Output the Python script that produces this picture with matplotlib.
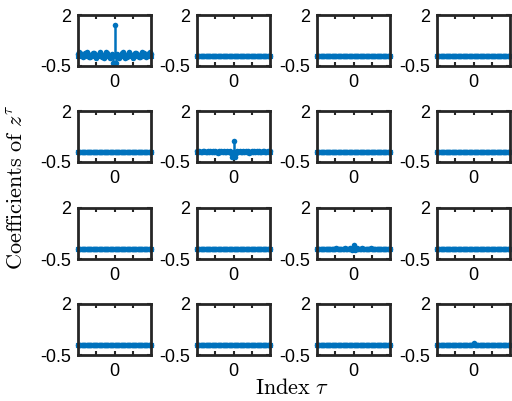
import numpy as np
import matplotlib.pyplot as plt
from matplotlib.ticker import FixedLocator

plt.rcParams['font.family'] = ['Liberation Sans', 'DejaVu Sans']
plt.rcParams['mathtext.fontset'] = 'cm'

# lag index
tau = np.arange(-30, 31)

# coefficients (tau = -30 .. 30)
c11 = [0.10, 0.18, 0.12, 0.00, -0.08, -0.02, 0.12, 0.20, 0.10, -0.05,
       -0.08, 0.05, 0.16, 0.14, 0.02, -0.09, -0.03, 0.10, 0.19, 0.11,
       -0.04, -0.10, 0.04, 0.17, 0.15, 0.00, -0.12, -0.05, 0.08, -0.35,
       1.50,
       -0.35, 0.08, -0.05, -0.12, 0.00, 0.15, 0.17, 0.04, -0.10, -0.04,
       0.11, 0.19, 0.10, -0.03, -0.09, 0.02, 0.14, 0.16, 0.05, -0.08,
       -0.05, 0.10, 0.20, 0.12, -0.02, -0.08, 0.00, 0.12, 0.18, 0.10]
c22 = [0.02, -0.02, 0.03, 0.00, -0.03, 0.02, 0.04, -0.02, 0.01, 0.03,
       -0.03, 0.02, 0.00, 0.03, -0.02, 0.04, 0.01, -0.04, 0.05, -0.02,
       0.03, -0.03, 0.04, 0.01, -0.03, 0.05, -0.02, 0.06, -0.04, -0.25,
       0.52,
       -0.25, -0.04, 0.06, -0.02, 0.05, -0.03, 0.01, 0.04, -0.03, 0.03,
       -0.02, 0.05, -0.04, 0.01, 0.04, -0.02, 0.03, 0.00, 0.02, -0.03,
       0.03, 0.01, -0.02, 0.04, 0.02, -0.03, 0.00, 0.03, -0.02, 0.02]
c33 = [0.00, 0.01, -0.01, 0.01, 0.00, -0.01, 0.01, 0.00, 0.01, -0.01,
       0.00, 0.01, -0.01, 0.00, 0.01, -0.01, 0.02, -0.01, 0.01, 0.00,
       -0.01, 0.01, 0.00, 0.02, -0.01, 0.01, -0.02, 0.02, -0.01, -0.08,
       0.20,
       -0.08, -0.01, 0.02, -0.02, 0.01, -0.01, 0.02, 0.00, 0.01, -0.01,
       0.00, 0.01, -0.01, 0.02, -0.01, 0.01, 0.00, -0.01, 0.01, 0.00,
       -0.01, 0.01, 0.00, 0.01, -0.01, 0.00, 0.01, -0.01, 0.01, 0.00]
c44 = [0.0] * 29 + [-0.03, 0.10, -0.03] + [0.0] * 29
zero = [0.0] * 61

panels = [[c11, zero, zero, zero],
          [zero, c22, zero, zero],
          [zero, zero, c33, zero],
          [zero, zero, zero, c44]]

blue = '#0072BD'
W, H = 512, 401
fig = plt.figure(figsize=(W / 100, H / 100), dpi=100)

lefts = [78, 197, 317, 437]
tops = [15, 111, 208, 304]
aw, ah = 73, 51

for i in range(4):
    for j in range(4):
        ax = fig.add_axes([lefts[j] / W, 1 - (tops[i] + ah) / H, aw / W, ah / H])
        y = panels[i][j]
        ax.vlines(tau, 0, y, color=blue, linewidth=1.8, clip_on=False)
        ax.plot(tau, y, 'o', color=blue, markersize=4.0, markeredgewidth=0, clip_on=False)
        ax.plot([tau[0], tau[-1]], [0, 0], color=blue, linewidth=3.7, clip_on=False)
        ax.set_xlim(tau[0], tau[-1])
        ax.set_ylim(-0.5, 2)
        ax.set_xticks([0])
        ax.xaxis.set_minor_locator(FixedLocator([-15, 15]))
        ax.set_yticks([-0.5, 2])
        ax.set_yticklabels(['-0.5', '2'])
        ax.tick_params(which='both', direction='in', top=True, right=True,
                       length=3, width=1.5, labelsize=13, color='#262626')
        ax.tick_params(axis='x', pad=6)
        ax.tick_params(axis='y', pad=5)
        for s in ax.spines.values():
            s.set_linewidth(2)
            s.set_color('#262626')

fig.text(292 / W, 1 - 389 / H, r'$\mathrm{Index}\ \tau$', ha='center', va='center', fontsize=16)
fig.text(18 / W, 1 - 188 / H, r'$\mathrm{Coefficients\ of}\ z^{\tau}$', ha='center', va='center',
         rotation=90, fontsize=16)

fig.savefig('out.png', dpi=100)
